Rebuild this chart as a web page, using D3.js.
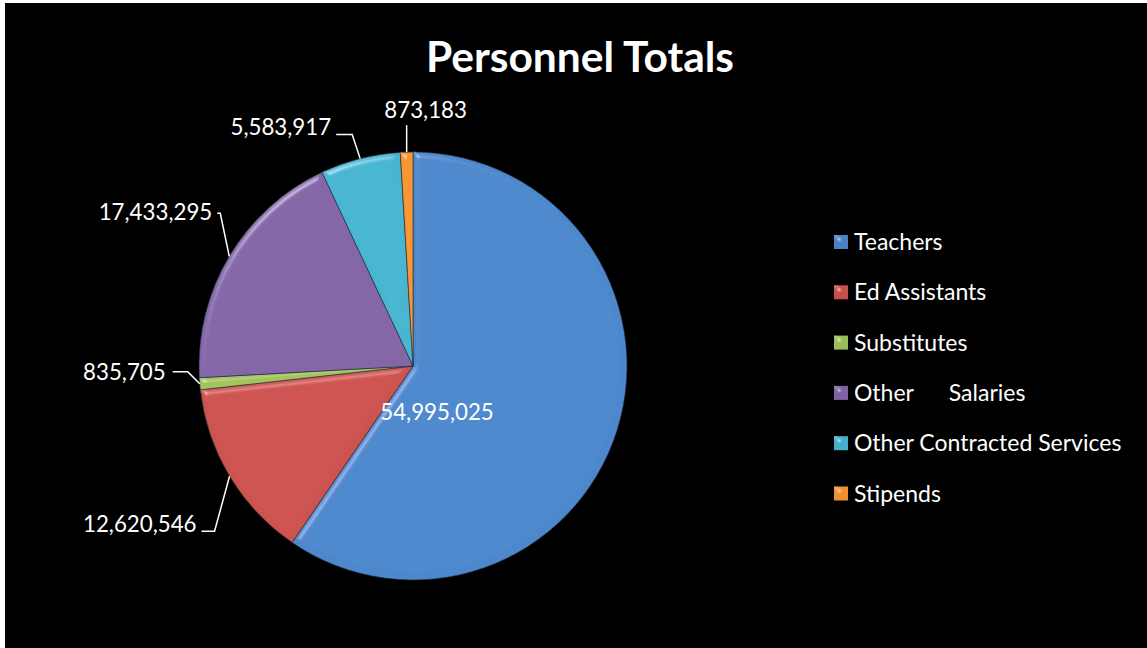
<!DOCTYPE html>
<html>
<head>
<meta charset="utf-8">
<script src="https://cdn.jsdelivr.net/npm/d3@7/dist/d3.min.js"></script>
<style>
  html, body { margin: 0; padding: 0; background: #fff; }
  svg { display: block; }
  text { font-family: Lato, "Open Sans", sans-serif; }
</style>
</head>
<body>
<svg id="chart" width="1147" height="648"></svg>
<script>
// ---- data ----
const categories = ["Teachers", "Ed Assistants", "Substitutes", "Other Salaries", "Other Contracted Services", "Stipends"];
const legendLabels = ["Teachers", "Ed Assistants", "Substitutes", "Other      Salaries", "Other Contracted Services", "Stipends"];
const values = [54995025, 12620546, 835705, 17433295, 5583917, 873183];
const title = "Personnel Totals";

// ---- styles / layout ----
const colors = ["#4a82c4", "#c4504d", "#9bbb59", "#7f62a1", "#45aec8", "#f08f2e"];
const W = 1147, H = 648;
const cx = 413, cy = 366, R = 214;
// label leader layout relative to slice edge point: elbow offset, horizontal run, text offset
const labelLayout = [
  { inside: true, dx: 24, dy: 46 },
  { elbow: [-15, 55], run: -13, text: [-5, -7], anchor: "end" },
  { elbow: [-12, -12], run: -15, text: [-7, 0], anchor: "end" },
  { elbow: [-9, -43], run: -3, text: [-5, -1], anchor: "end" },
  { elbow: [-8, -24], run: -16, text: [-5, -7], anchor: "end" },
  { elbow: [0, -27], run: 0, text: [19, -15], anchor: "middle" }
];

const svg = d3.select("#chart");
svg.append("rect").attr("width", W).attr("height", H).attr("fill", "#fff");
svg.append("rect").attr("x", 5).attr("y", 3).attr("width", W - 5).attr("height", H - 3).attr("fill", "#000");

const defs = svg.append("defs");
const f = defs.append("filter").attr("id", "bevel").attr("x", "-10%").attr("y", "-10%").attr("width", "120%").attr("height", "120%");
f.append("feGaussianBlur").attr("in", "SourceAlpha").attr("stdDeviation", 3).attr("result", "blur");
const spec = f.append("feSpecularLighting").attr("in", "blur").attr("surfaceScale", 5)
  .attr("specularConstant", 0.7).attr("specularExponent", 30).attr("lighting-color", "#ffffff").attr("result", "spec");
spec.append("feDistantLight").attr("azimuth", 235).attr("elevation", 30);
f.append("feComposite").attr("in", "spec").attr("in2", "SourceAlpha").attr("operator", "in").attr("result", "specIn");
f.append("feComposite").attr("in", "SourceGraphic").attr("in2", "specIn").attr("operator", "arithmetic")
  .attr("k1", 0).attr("k2", 1).attr("k3", 0.45).attr("k4", 0);

// per-slice gradient for slight shading
colors.forEach((c, i) => {
  const g = defs.append("radialGradient").attr("id", "g" + i)
    .attr("gradientUnits", "userSpaceOnUse").attr("cx", cx).attr("cy", cy).attr("r", R);
  g.append("stop").attr("offset", "0%").attr("stop-color", d3.color(c).darker(0.12));
  g.append("stop").attr("offset", "88%").attr("stop-color", c);
  g.append("stop").attr("offset", "100%").attr("stop-color", d3.color(c).brighter(0.12));
});

// title
svg.append("text").attr("x", 580).attr("y", 72).attr("text-anchor", "middle")
  .attr("fill", "#fff").attr("font-weight", "bold").attr("font-size", 42.5).text(title);

const pie = d3.pie().sort(null).value(d => d);
const arcs = pie(values);
const arc = d3.arc().innerRadius(0).outerRadius(R);

const g = svg.append("g").attr("transform", `translate(${cx},${cy})`);
g.selectAll("path.slice").data(arcs).join("path")
  .attr("class", "slice")
  .attr("d", arc)
  .attr("fill", (d, i) => `url(#g${i})`)
  .attr("stroke", "#1d2a3a").attr("stroke-width", 0.6)
  .attr("filter", "url(#bevel)");

const fmt = d3.format(",");
const labG = svg.append("g");
arcs.forEach((a, i) => {
  const L = labelLayout[i];
  if (L.inside) {
    labG.append("text").attr("x", cx + L.dx).attr("y", cy + L.dy).attr("dy", "0.35em")
      .attr("text-anchor", "middle").attr("fill", "#fff").attr("font-size", 22.3).text(fmt(values[i]));
    return;
  }
  const mid = (a.startAngle + a.endAngle) / 2;
  const ex = cx + R * Math.sin(mid), ey = cy - R * Math.cos(mid);
  const bx = ex + L.elbow[0], by = ey + L.elbow[1];
  const hx = bx + L.run;
  labG.append("polyline").attr("points", `${ex},${ey} ${bx},${by} ${hx},${by}`)
    .attr("fill", "none").attr("stroke", "#fff").attr("stroke-width", 1.5);
  labG.append("text").attr("x", hx + L.text[0]).attr("y", by + L.text[1]).attr("dy", "0.35em")
    .attr("text-anchor", L.anchor).attr("fill", "#fff").attr("font-size", 22.3).text(fmt(values[i]));
});

// legend
const leg = svg.append("g");
legendLabels.forEach((lab, i) => {
  const y = 242 + i * 50.3;
  leg.append("rect").attr("x", 834).attr("y", y - 7).attr("width", 14).attr("height", 14)
    .attr("fill", colors[i]).attr("filter", "url(#bevel)");
  leg.append("text").attr("x", 854).attr("y", y).attr("dy", "0.35em")
    .attr("fill", "#fff").attr("font-size", 23).attr("xml:space", "preserve")
    .style("white-space", "pre").text(lab);
});
</script>
</body>
</html>
